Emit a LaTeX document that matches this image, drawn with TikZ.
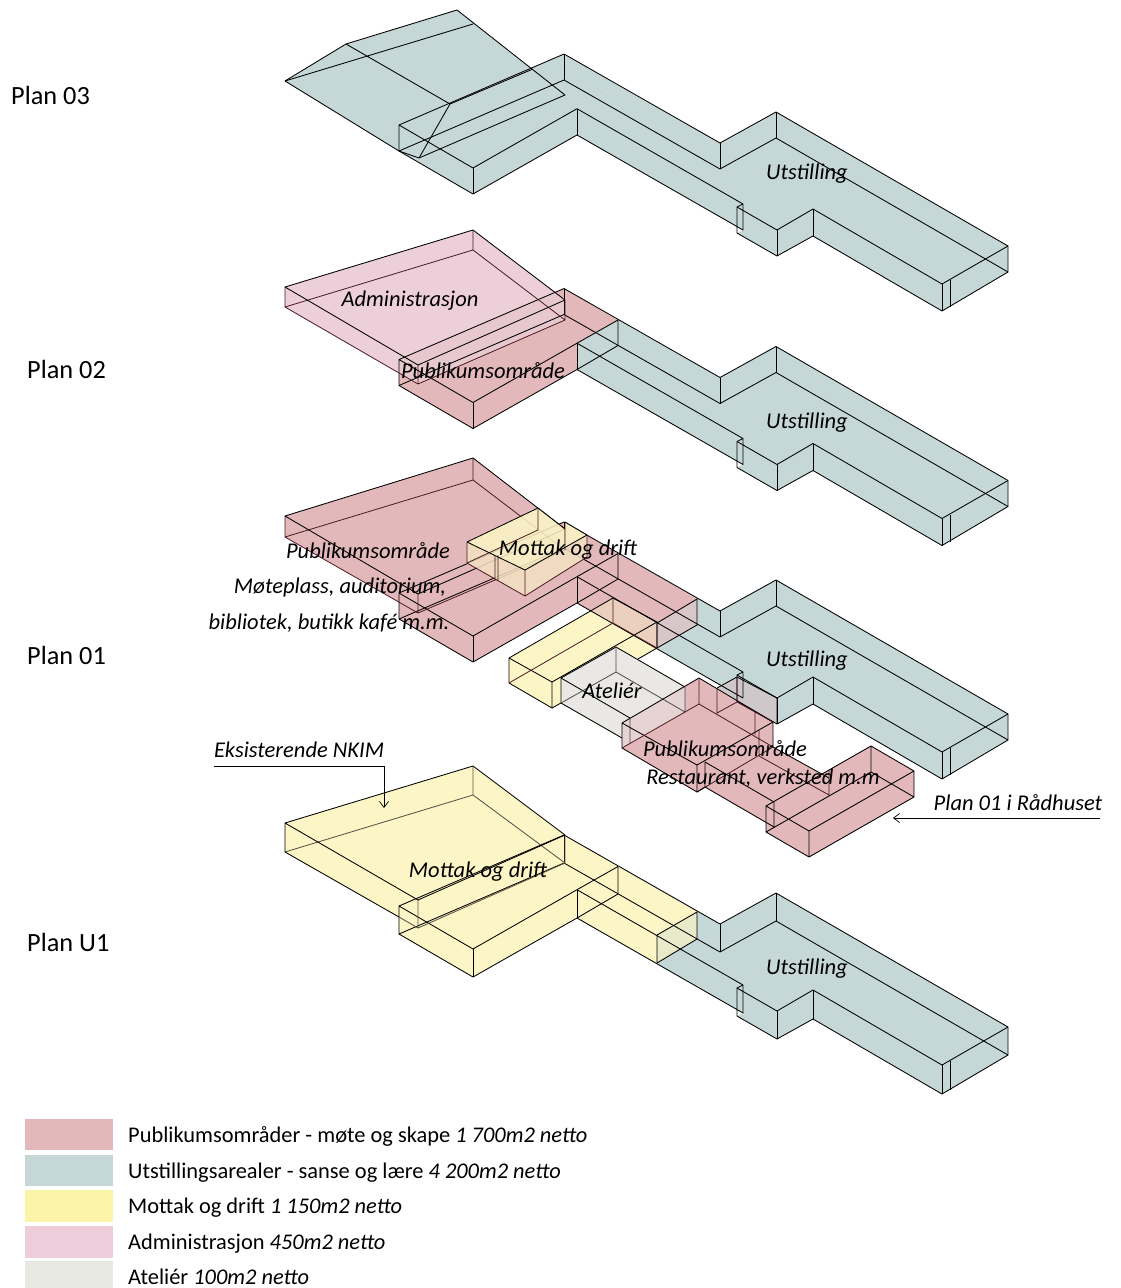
\documentclass[tikz,border=0pt]{standalone}
\usepackage{fontspec}
\setmainfont{Carlito}
\usetikzlibrary{arrows.meta}
\definecolor{teal}{HTML}{C6D7D7}
\definecolor{pub}{HTML}{E3B8BB}
\definecolor{yel}{HTML}{FCF6C6}
\definecolor{adm}{HTML}{ECCFD9}
\definecolor{ate}{HTML}{E9E8E4}
\definecolor{legyel}{HTML}{FAF3A8}
\definecolor{legadm}{HTML}{ECCDD9}
\definecolor{legate}{HTML}{E8E8E3}
\definecolor{adpub}{HTML}{E8C8CF}
\definecolor{yepub}{HTML}{EBCFBF}
\definecolor{yeteal}{HTML}{E9EAC9}
\definecolor{puteal}{HTML}{D9C6C8}
\definecolor{atpub}{HTML}{E6D3D3}
\definecolor{grpub}{HTML}{CFC8CA}
\definecolor{dred}{HTML}{4A1A20}
\tikzset{
  edge/.style={draw=black,line width=0.85pt,line join=round},
  inner/.style={draw=dred,line width=0.8pt,line join=round},
  planlab/.style={font=\fontsize{26.3}{29}\selectfont,anchor=west,inner sep=0pt},
  arealab/.style={font=\fontsize{22.5}{26}\selectfont\itshape,inner sep=0pt},
  leglab/.style={font=\fontsize{22.4}{26}\selectfont,anchor=west,inner sep=0pt},
  legbox/.style={draw=none,inner sep=0pt,minimum width=88pt,anchor=north west},
  lead/.style={draw=black,line width=0.7pt,-{Straight Barb[length=6pt,width=9pt]}}
}
\newcommand{\dz}{0}
% silhouette of the exhibition wing
\newcommand{\wingfill}{\fill[teal] (577,108.7)--(618,85.5)--(720,143)--(776,112)--(1008,246)--(1008,272+\dz)--(942,311+\dz)--(813,236+\dz)--(777,256+\dz)--(737,233+\dz)--(743,230+\dz)--(577,135+\dz)--cycle;}
% all lines common to every floor
\newcommand{\winglines}{%
  \draw[edge] (399,125)--(564,54)--(720,143)--(776,112)--(1008,246)--(1008,272+\dz)--(942,311+\dz)--(813,236+\dz)--(777,256+\dz)--(737,233+\dz)--(737,207)--(743,204)--(577,108.7)--(473,168)--(399,125)--(399,151+\dz)--(473,194+\dz)--(577,135+\dz)--(743,230+\dz)--(743,204);
  \draw[edge] (399,151+\dz)--(564,80+\dz)--(720,169+\dz)--(776,138+\dz)--(1008,272+\dz);
  \draw[edge] (737,207)--(777,230)--(813,209)--(942,284)--(1008,246);
  \draw[edge] (473,168)--(473,194+\dz) (577,108.7)--(577,135+\dz) (564,54)--(564,80+\dz) (720,143)--(720,169+\dz) (776,112)--(776,138+\dz) (777,230)--(777,256+\dz) (813,209)--(813,236+\dz) (942,284)--(942,311+\dz) (950,280)--(950,307+\dz);
}
\begin{document}
\begin{tikzpicture}[x=1pt,y=-1pt]
\useasboundingbox (0,0) rectangle (1120,1288);
% ---------------- Plan 03
\fill[teal] (285,81)--(346,44)--(457,10)--(565,95)--(419,158)--(399,151)--cycle;
\fill[teal] (399,125)--(564,54)--(618,85.5)--(577,108.7)--(577,135)--(473,194)--(399,151)--cycle;
\wingfill
\winglines
\draw[edge] (285,81)--(346,44)--(457,10)--(565,95)--(419,158)--(399,151)--cycle;
\draw[edge] (285,81)--(473,24) (346,44)--(450,104)--(419,158) (450,104)--(533,69);
% ---------------- Plan 02
\begin{scope}[shift={(0,234.5)}]
\wingfill
\fill[pub] (399,125)--(564,54)--(618,85.5)--(577,108.7)--(577,135)--(473,194)--(399,151)--cycle;
\end{scope}
\fill[adm] (285,287)--(473,230)--(565,300)--(565,320)--(418,384)--(285,307)--cycle;
\begin{scope}
\clip (285,287)--(473,230)--(565,300)--(565,320)--(418,384)--(285,307)--cycle;
\fill[adpub] (399,359.5)--(564,288.5)--(618,320)--(577,343)--(577,369.5)--(473,428.5)--(399,385.5)--cycle;
\end{scope}
\begin{scope}[shift={(0,234.5)}]
\winglines
\draw[edge] (618,85.5)--(618,111)--(577,135) (618,85.5)--(577,108.7);
\end{scope}
\draw[inner] (285,287)--(285,307)--(473,250)--(565,320)--(418,384)--(285,307) (473,230)--(473,250) (418,365)--(418,384) (565,300)--(565,320);
\draw[edge] (285,287)--(473,230)--(565,300)--(418,365)--cycle;
% ---------------- Plan 01
\begin{scope}[shift={(0,468)}]
\wingfill
\end{scope}
\fill[pub] (285,516)--(473,458)--(565,529)--(565,550)--(418,613)--(285,537)--cycle;
\fill[pub] (399,593)--(564,522)--(697,599)--(697,625)--(657,648)--(577,603)--(473,662)--(399,619)--cycle;
\fill[puteal] (657,623)--(697,599)--(697,625)--(657,648)--cycle;
% atelier
\fill[ate] (561,678)--(616,647)--(700,695)--(622,738)--(561,703)--cycle;
% yellow annex
\fill[yel] (509,658)--(613,598)--(657,622)--(657,648)--(638,659)--(616,647)--(561,678)--(561,703)--(552,708)--(509,683)--cycle;
\fill[yepub] (591,611)--(613,598)--(657,622)--(657,648)--cycle;
% public block (restaurant)
\fill[pub] (622,723)--(699,678)--(773,722)--(773,747)--(697,792)--(622,748)--cycle;
\fill[pub] (705,762)--(759,730)--(773,738)--(773,747)--(829,778)--(829,800)--(774,827)--(705,787)--cycle;
\fill[pub] (766,806)--(871,746)--(914,771)--(914,797)--(809,857)--(766,832)--cycle;
\fill[atpub] (622,723)--(685,687)--(685,712)--(622,748)--cycle;
\fill[grpub] (717,688)--(737,677)--(777,698)--(777,724)--(773,722)--cycle;
% lines below the mottak volume
\begin{scope}[shift={(0,468)}]
\winglines
\draw[edge] (618,85.5)--(618,111)--(577,135) (618,85.5)--(577,108.7);
\draw[edge] (657,155)--(697,131)--(697,157)--(657,180)--cycle;
\end{scope}
\draw[inner] (285,516)--(285,537)--(473,480)--(565,550)--(418,613)--(285,537) (473,458)--(473,480) (418,594)--(418,613) (565,529)--(565,550);
\draw[edge] (285,516)--(473,458)--(565,529)--(418,594)--cycle;
% mottak volume
\fill[yel,fill opacity=.85] (467,542)--(538,508)--(565,529)--(565,522)--(587,535)--(525,570)--cycle;
\fill[yepub!55!yel,fill opacity=.85] (467,542)--(525,570)--(587,535)--(587,557)--(525,596)--(497,580)--(467,563)--cycle;
\draw[inner] (467,563)--(538,530) (538,508)--(538,530) (565,522)--(565,550) (495,556)--(495,580) (498,555)--(498,581) (467,563)--(525,596)--(587,557) (467,542)--(467,563) (525,570)--(525,596) (587,535)--(587,557);
\draw[edge] (467,542)--(538,508)--(565,529) (565,522)--(587,535)--(525,570)--(467,542);
% yellow annex lines
\draw[edge] (509,658)--(613,598)--(657,622)--(552,682)--cycle (509,658)--(509,683)--(552,708)--(552,682) (657,622)--(657,648)--(638,659);
\draw[inner] (509,683)--(613,623)--(613,598) (613,623)--(657,648);
% atelier lines
\draw[edge] (561,678)--(616,647)--(685,687) (561,678)--(630,718) (561,703)--(622,738) (561,678)--(561,703)--(552,708);
\draw[draw=black!70,line width=.8pt] (561,703)--(616,672)--(685,712) (616,647)--(616,672) (685,687)--(685,712) (630,718)--(630,743);
% restaurant block lines
\draw[edge] (622,723)--(699,678)--(773,722)--(773,747) (622,723)--(697,765)--(773,722) (622,723)--(622,748)--(697,792)--(697,765);
\draw[edge] (737,677)--(777,698)--(777,724) (717,688)--(737,677);
\draw[inner] (622,748)--(699,704)--(773,747)--(697,792) (699,678)--(699,704) (717,688)--(717,713)--(737,702)--(773,722) (737,677)--(737,702) (755,712)--(755,735) (759,730)--(759,756)--(829,795)--(829,770);
\draw[edge] (697,792)--(705,787)--(774,827)--(774,802)--(705,762)--(705,787) (773,747)--(829,778);
\draw[edge] (766,806)--(871,746)--(914,771)--(914,797)--(809,857)--(766,832)--(766,806)--(809,831)--(914,771) (809,831)--(809,857) (766,832)--(871,772)--(914,797) (871,746)--(871,772);
% ---------------- Plan U1
\renewcommand{\dz}{2}
\begin{scope}[shift={(0,781)}]
\wingfill
\end{scope}
\fill[yel] (285,823)--(473,766)--(565,835)--(565,863)--(418,928)--(285,852)--cycle;
\fill[yel] (399,906)--(564,835)--(697,912)--(697,939)--(657,963)--(577,918)--(473,977)--(399,934)--cycle;
\fill[yeteal] (657,935)--(697,912)--(697,939)--(657,963)--cycle;
\begin{scope}[shift={(0,781)}]
\winglines
\draw[edge] (618,85.5)--(618,113)--(577,137) (618,85.5)--(577,108.7);
\draw[edge] (657,154)--(697,131)--(697,158)--(657,182)--cycle;
\end{scope}
\draw[draw=black!65!yel,line width=.85pt] (285,852)--(473,795)--(565,863)--(418,928) (473,766)--(473,795) (418,900)--(418,928) (565,835)--(565,863);
\draw[edge] (285,823)--(473,766)--(565,835)--(418,900)--cycle (285,823)--(285,852)--(399,917);
\draw[draw=black!65!yel,line width=.85pt] (399,917)--(418,928);
% ---------------- annotations
\coordinate (nkimstart) at (214,766);
\coordinate (nkimbend) at (384,766);
\coordinate (nkimend) at (384,808);
\draw[lead] (nkimstart)--(nkimbend)--(nkimend);
\coordinate (radstart) at (1100,818);
\coordinate (radend) at (893,818);
\draw[lead] (radstart)--(radend);
% ---------------- texts
\node[planlab] (p3) at (11,95.5) {Plan 03};
\node[planlab] (p2) at (27,369.5) {Plan 02};
\node[planlab] (p1) at (27,655.5) {Plan 01};
\node[planlab] (pu) at (27,942.5) {Plan U1};
\node[arealab] (u3) at (807,174) {Utstilling};
\node[arealab] (u2) at (807,423) {Utstilling};
\node[arealab] (u1) at (807,661) {Utstilling};
\node[arealab] (uu) at (807,969) {Utstilling};
\node[arealab] (adm) at (410,301) {Administrasjon};
\node[arealab] (pub2) at (483,371) {Publikumsområde};
\node[arealab] (pub1) at (368,551) {Publikumsområde};
\node[arealab] (mot1) at (568,550) {Mottak og drift};
\node[arealab] (mote) at (340,587) {Møteplass, auditorium,};
\node[arealab] (bibl) at (329,623) {bibliotek, butikk kafé m.m.};
\node[arealab] (atel) at (612,691) {Ateliér};
\node[arealab] (pubr) at (725,749) {Publikumsområde};
\node[arealab] (rest) at (763,778) {Restaurant, verksted m.m};
\node[arealab] (rad) at (1018,803) {Plan 01 i Rådhuset};
\node[arealab] (nkim) at (299,750) {Eksisterende NKIM};
\node[arealab] (motu) at (478,872) {Mottak og drift};
% ---------------- legend
\node[legbox,fill=pub,minimum height=31pt] (l1) at (25,1119) {};
\node[legbox,fill=teal,minimum height=31pt] (l2) at (25,1155) {};
\node[legbox,fill=legyel,minimum height=32pt] (l3) at (25,1190) {};
\node[legbox,fill=legadm,minimum height=32pt] (l4) at (25,1226) {};
\node[legbox,fill=legate,minimum height=27pt] (l5) at (25,1261) {};
\node[leglab] (t1) at (128,1136.5) {Publikumsområder - møte og skape \textit{1 700m2 netto}};
\node[leglab] (t2) at (128,1172.5) {Utstillingsarealer - sanse og lære \textit{4 200m2 netto}};
\node[leglab] (t3) at (128,1207.5) {Mottak og drift \textit{1 150m2 netto}};
\node[leglab] (t4) at (128,1243.5) {Administrasjon \textit{450m2 netto}};
\node[leglab] (t5) at (128,1277) {Ateliér \textit{100m2 netto}};
\end{tikzpicture}
\end{document}
